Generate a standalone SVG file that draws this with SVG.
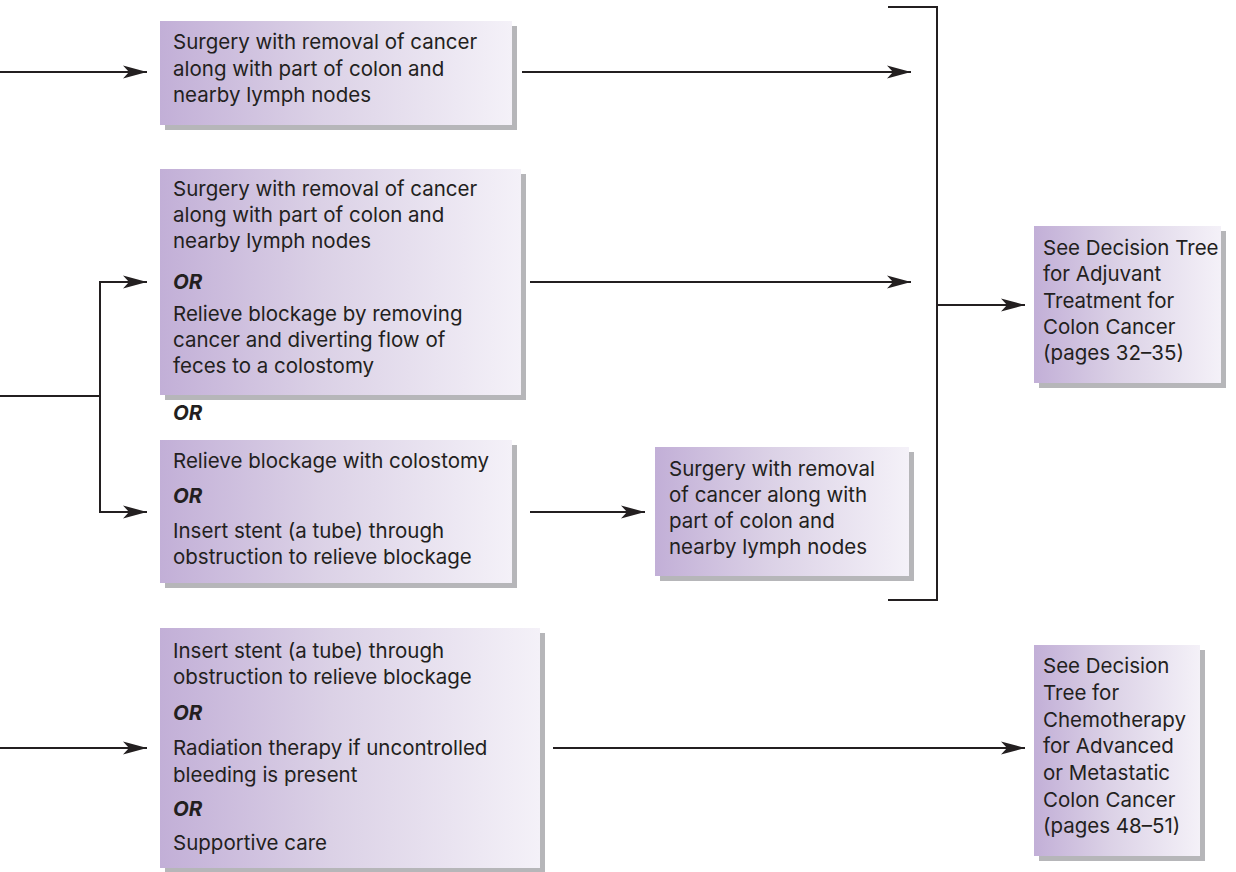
<svg xmlns="http://www.w3.org/2000/svg" width="1236" height="872" viewBox="0 0 1236 872">
  <defs>
    <linearGradient id="fill" x1="0" y1="0" x2="1" y2="0">
      <stop offset="0" stop-color="#c2afd7"/>
      <stop offset="0.45" stop-color="#dbd1e6"/>
      <stop offset="1" stop-color="#f4f1f8"/>
    </linearGradient>
    <marker id="arrow" markerUnits="userSpaceOnUse" markerWidth="26" markerHeight="16" viewBox="-25 -8 26 16" refX="0" refY="0" orient="auto">
      <path d="M0,0 L-24,-6.5 L-18,0 L-24,6.5 Z" fill="#231f20"/>
    </marker>
  </defs>
  <style>
    .shadow { fill: #b6b6b9; }
    .box { fill: url(#fill); }
    text { font-family: Inter, "Open Sans", "Liberation Sans", sans-serif; font-size: 20.5px; fill: #231f20; }
    .or { font-weight: bold; font-style: italic; }
    .line { fill: none; stroke: #231f20; stroke-width: 2; }
    .arr { fill: none; stroke: #231f20; stroke-width: 2; marker-end: url(#arrow); }
  </style>

  <rect width="1236" height="872" fill="#ffffff"/>

  <g id="connectors">
    <path class="arr" d="M0,72 H147"/>
    <path class="arr" d="M522,72 H911"/>
    <path class="line" d="M0,396 H100 M100,282 V512"/>
    <path class="arr" d="M99,282 H147"/>
    <path class="arr" d="M99,512 H147"/>
    <path class="arr" d="M530,282 H911"/>
    <path class="arr" d="M530,512 H645"/>
    <path class="line" d="M888,7 H937 V600 H888"/>
    <path class="arr" d="M937,305 H1025"/>
    <path class="arr" d="M0,748 H147"/>
    <path class="arr" d="M553,748 H1025"/>
  </g>

  <g id="surgery-colon">
    <rect class="shadow" x="165" y="26" width="352" height="104"/>
    <rect class="box" x="160" y="21" width="352" height="104"/>
    <text x="173" y="49">Surgery with removal of cancer<tspan x="173" dy="27">along with part of colon and</tspan><tspan x="173" dy="26">nearby lymph nodes</tspan></text>
  </g>

  <g id="surgery-or-relieve">
    <rect class="shadow" x="165" y="174" width="361" height="226"/>
    <rect class="box" x="160" y="169" width="361" height="226"/>
    <text x="173" y="196">Surgery with removal of cancer<tspan x="173" dy="26">along with part of colon and</tspan><tspan x="173" dy="26">nearby lymph nodes</tspan><tspan class="or" x="173" dy="41">OR</tspan><tspan x="173" dy="32">Relieve blockage by removing</tspan><tspan x="173" dy="26">cancer and diverting flow of</tspan><tspan x="173" dy="26">feces to a colostomy</tspan></text>
  </g>

  <g id="or-label">
    <text class="or" x="173" y="420">OR</text>
  </g>

  <g id="colostomy-or-stent">
    <rect class="shadow" x="165" y="445" width="352" height="143"/>
    <rect class="box" x="160" y="440" width="352" height="143"/>
    <text x="173" y="468">Relieve blockage with colostomy<tspan class="or" x="173" dy="35">OR</tspan><tspan x="173" dy="35">Insert stent (a tube) through</tspan><tspan x="173" dy="26">obstruction to relieve blockage</tspan></text>
  </g>

  <g id="later-surgery">
    <rect class="shadow" x="660" y="452" width="254" height="129"/>
    <rect class="box" x="655" y="447" width="254" height="129"/>
    <text x="669" y="476">Surgery with removal<tspan x="669" dy="26">of cancer along with</tspan><tspan x="669" dy="26">part of colon and</tspan><tspan x="669" dy="25.5">nearby lymph nodes</tspan></text>
  </g>

  <g id="adjuvant-tree">
    <rect class="shadow" x="1039" y="231" width="187" height="157"/>
    <rect class="box" x="1034" y="226" width="187" height="157"/>
    <text x="1043" y="255">See Decision Tree<tspan x="1043" dy="26">for Adjuvant</tspan><tspan x="1043" dy="27">Treatment for</tspan><tspan x="1043" dy="26">Colon Cancer</tspan><tspan x="1043" dy="26">(pages 32–35)</tspan></text>
  </g>

  <g id="palliative-options">
    <rect class="shadow" x="165" y="633" width="380" height="240"/>
    <rect class="box" x="160" y="628" width="380" height="240"/>
    <text x="173" y="658">Insert stent (a tube) through<tspan x="173" dy="26">obstruction to relieve blockage</tspan><tspan class="or" x="173" dy="36">OR</tspan><tspan x="173" dy="35">Radiation therapy if uncontrolled</tspan><tspan x="173" dy="27">bleeding is present</tspan><tspan class="or" x="173" dy="34">OR</tspan><tspan x="173" dy="34">Supportive care</tspan></text>
  </g>

  <g id="chemo-tree">
    <rect class="shadow" x="1039" y="650" width="166" height="211"/>
    <rect class="box" x="1034" y="645" width="166" height="211"/>
    <text x="1043" y="673">See Decision<tspan x="1043" dy="27">Tree for</tspan><tspan x="1043" dy="27">Chemotherapy</tspan><tspan x="1043" dy="26">for Advanced</tspan><tspan x="1043" dy="27">or Metastatic</tspan><tspan x="1043" dy="27">Colon Cancer</tspan><tspan x="1043" dy="26">(pages 48–51)</tspan></text>
  </g>
</svg>
